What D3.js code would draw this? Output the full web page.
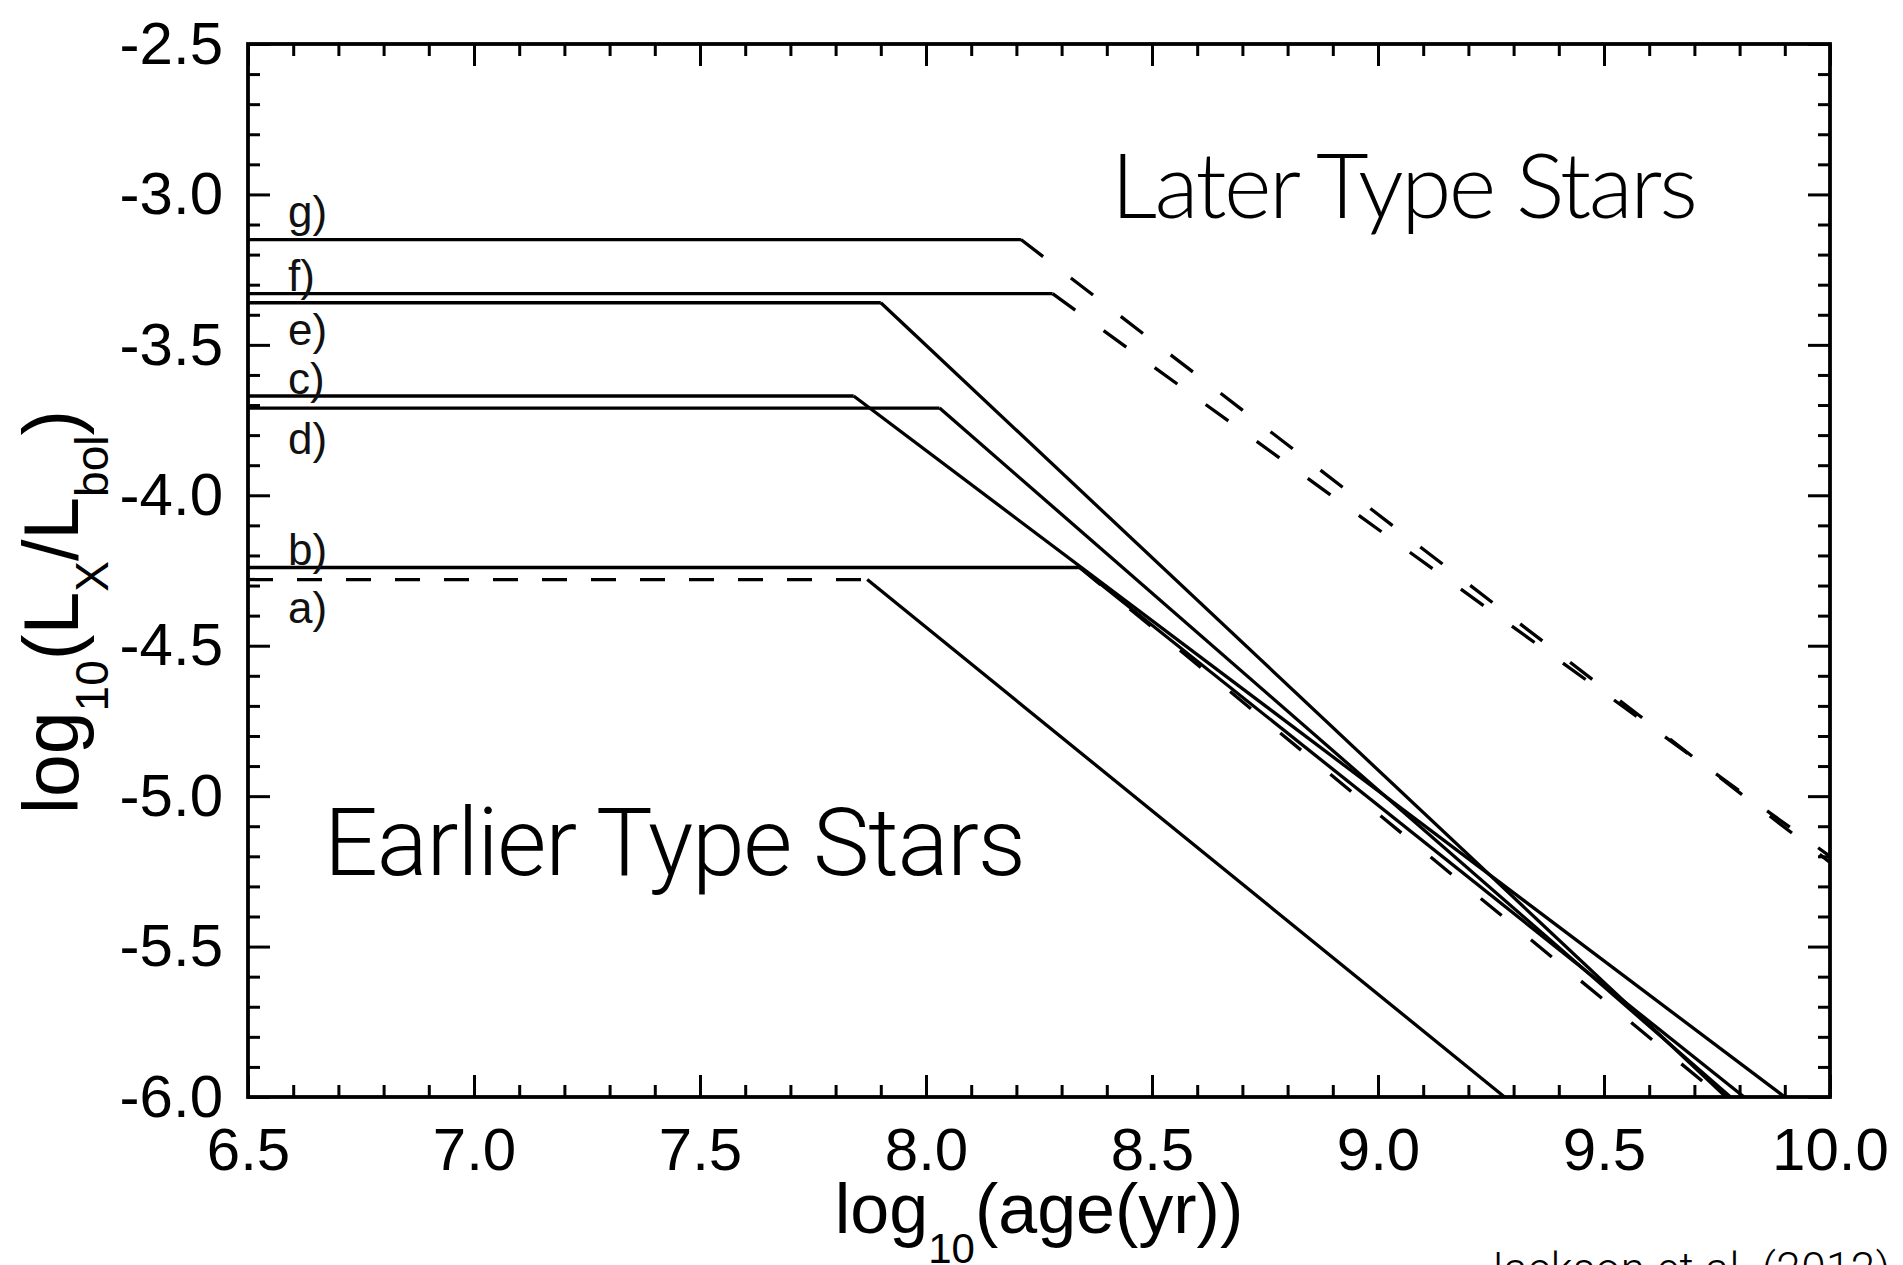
<!DOCTYPE html>
<html>
<head>
<meta charset="utf-8">
<script src="https://cdn.jsdelivr.net/npm/d3@7"></script>
<style>
  html, body { margin: 0; padding: 0; background: #fff; }
  svg { display: block; }
</style>
</head>
<body>
<div id="chart"></div>
<script>
// Lx/Lbol tracks: flat saturated part, then a power-law decline
const trackNames = ['a)', 'b)', 'c)', 'd)', 'e)', 'f)', 'g)'];
const satLevel   = [-4.28, -4.24, -3.67, -3.71, -3.36, -3.33, -3.15];
const kneeAge    = [7.87, 8.34, 7.84, 8.03, 7.90, 8.28, 8.21];
const endAge     = [9.28, 9.81, 9.90, 9.78, 9.77, 10.0, 10.0];
const endLevel   = [-6.0, -6.0, -6.0, -6.0, -6.0, -5.20, -5.22];

// extra dashed decline leaving the b) knee
const altAge   = [8.34, 9.76];
const altLevel = [-4.24, -6.0];

const xTicks = [6.5, 7.0, 7.5, 8.0, 8.5, 9.0, 9.5, 10.0];
const yTicks = [-2.5, -3.0, -3.5, -4.0, -4.5, -5.0, -5.5, -6.0];

const width = 1903;
const height = 1265;
const plotLeft = 248, plotRight = 1830, plotTop = 44, plotBottom = 1097;

const svg = d3.select('#chart')
    .append('svg')
    .attr('width', width)
    .attr('height', height);

const x = d3.scaleLinear().domain([6.5, 10.0]).range([plotLeft, plotRight]);
const y = d3.scaleLinear().domain([-2.5, -6.0]).range([plotTop, plotBottom]);

const minorX = d3.range(65, 101).map(i => i / 10).filter(v => !xTicks.includes(v));
const minorY = d3.range(-60, -24).map(i => i / 10).filter(v => !yTicks.includes(v));

const tickFont = "'Liberation Sans', Arial, Helvetica, sans-serif";

// axes: inward ticks on all four sides, labels on bottom and left only
function styleAxis(g) {
    g.attr('font-size', null).attr('font-family', null);
    g.select('.domain').remove();
    g.selectAll('.tick line').attr('stroke', '#000').attr('stroke-width', 3);
    g.selectAll('.tick text')
        .attr('fill', '#000')
        .attr('font-family', tickFont)
        .attr('font-size', 60);
}

function addAxes(axisFn, scale, translate, majors, minors, labelled, pad) {
    const major = axisFn(scale).tickValues(majors).tickSize(-22).tickSizeOuter(0);
    if (labelled) major.tickPadding(pad).tickFormat(d => d.toFixed(1));
    else major.tickFormat('');
    svg.append('g').attr('transform', translate).call(major).call(styleAxis);

    const minor = axisFn(scale).tickValues(minors).tickSize(-12).tickSizeOuter(0).tickFormat('');
    svg.append('g').attr('transform', translate).call(minor).call(styleAxis);
}

addAxes(d3.axisBottom, x, `translate(0,${plotBottom})`, xTicks, minorX, true, 30);
addAxes(d3.axisTop, x, `translate(0,${plotTop})`, xTicks, minorX, false);
addAxes(d3.axisLeft, y, `translate(${plotLeft},0)`, yTicks, minorY, true, 25);
addAxes(d3.axisRight, y, `translate(${plotRight},0)`, yTicks, minorY, false);

// plot frame
svg.append('rect')
    .attr('x', plotLeft)
    .attr('y', plotTop)
    .attr('width', plotRight - plotLeft)
    .attr('height', plotBottom - plotTop)
    .attr('fill', 'none')
    .attr('stroke', '#000')
    .attr('stroke-width', 3.8);

// tracks
const line = d3.line().x(d => x(d[0])).y(d => y(d[1]));
const dashedFlat = new Set(['a)']);
const dashedDecline = new Set(['f)', 'g)']);

const tracks = svg.append('g').attr('fill', 'none').attr('stroke', '#000').attr('stroke-width', 3.3);

trackNames.forEach((name, i) => {
    tracks.append('path')
        .attr('d', line([[6.5, satLevel[i]], [kneeAge[i], satLevel[i]]]))
        .attr('stroke-dasharray', dashedFlat.has(name) ? '25,24' : null);

    tracks.append('path')
        .attr('d', line([[kneeAge[i], satLevel[i]], [endAge[i], endLevel[i]]]))
        .attr('stroke-dasharray', dashedDecline.has(name) ? '28,35' : null);
});

tracks.append('path')
    .attr('d', line(altAge.map((a, i) => [a, altLevel[i]])))
    .attr('stroke-dasharray', '27,38');

// track labels, just above or below their saturated level
const labelShift = { 'a)': 43, 'b)': -2, 'c)': -2, 'd)': 46, 'e)': 42, 'f)': -3, 'g)': -13 };

svg.append('g')
    .selectAll('text')
    .data(trackNames)
    .join('text')
    .attr('x', 288)
    .attr('y', (d, i) => y(satLevel[i]) + labelShift[d])
    .attr('font-family', tickFont)
    .attr('font-size', 44)
    .attr('fill', '#111')
    .text(d => d);

// axis titles
const xTitle = svg.append('text')
    .attr('x', (plotLeft + plotRight) / 2)
    .attr('y', 1233)
    .attr('text-anchor', 'middle')
    .attr('font-family', tickFont)
    .attr('font-size', 70)
    .attr('fill', '#000');
xTitle.append('tspan').text('log');
xTitle.append('tspan').attr('font-size', 42).attr('dy', 30).text('10');
xTitle.append('tspan').attr('dy', -30).text('(age(yr))');

const yTitle = svg.append('text')
    .attr('transform', 'translate(78,612) rotate(-90)')
    .attr('text-anchor', 'middle')
    .attr('font-family', tickFont)
    .attr('font-size', 77)
    .attr('fill', '#000');
yTitle.append('tspan').text('log');
yTitle.append('tspan').attr('font-size', 46).attr('dy', 30).text('10');
yTitle.append('tspan').attr('dy', -30).text('(L');
yTitle.append('tspan').attr('font-size', 46).attr('dy', 30).text('X');
yTitle.append('tspan').attr('dy', -30).text('/L');
yTitle.append('tspan').attr('font-size', 46).attr('dy', 30).text('bol');
yTitle.append('tspan').attr('dy', -30).text(')');

// annotations
svg.append('text')
    .attr('x', 1111)
    .attr('y', 218)
    .attr('font-family', "Lato, 'Open Sans', sans-serif")
    .attr('font-weight', 300)
    .attr('font-size', 91)
    .attr('textLength', 587)
    .attr('lengthAdjust', 'spacing')
    .attr('fill', '#000')
    .text('Later Type Stars');

svg.append('text')
    .attr('x', 324)
    .attr('y', 875)
    .attr('font-family', "Roboto, 'Liberation Sans', sans-serif")
    .attr('font-weight', 300)
    .attr('font-size', 95)
    .attr('textLength', 702)
    .attr('lengthAdjust', 'spacing')
    .attr('fill', '#000')
    .text('Earlier Type Stars');

svg.append('text')
    .attr('x', 1479)
    .attr('y', 1284)
    .attr('font-family', "Roboto, 'Liberation Sans', sans-serif")
    .attr('font-weight', 300)
    .attr('font-size', 44)
    .attr('textLength', 411)
    .attr('lengthAdjust', 'spacing')
    .attr('fill', '#000')
    .text('Jackson et al. (2012)');
</script>
</body>
</html>
